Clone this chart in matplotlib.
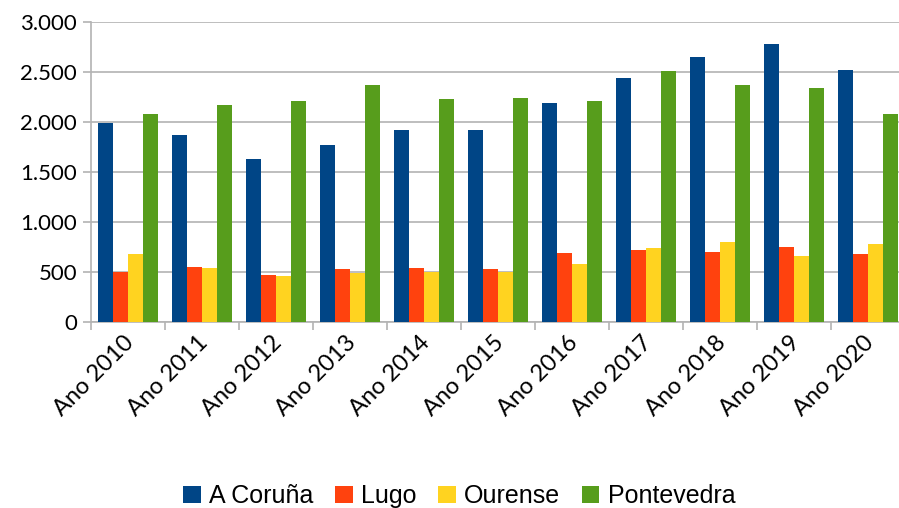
import matplotlib
matplotlib.use("Agg")
import matplotlib.pyplot as plt
from matplotlib.ticker import FuncFormatter
from matplotlib.transforms import ScaledTranslation
import numpy as np

years = ['Ano 2010', 'Ano 2011', 'Ano 2012', 'Ano 2013', 'Ano 2014', 'Ano 2015',
         'Ano 2016', 'Ano 2017', 'Ano 2018', 'Ano 2019', 'Ano 2020']
coruna = [1990, 1870, 1630, 1770, 1920, 1920, 2190, 2440, 2650, 2780, 2520]
lugo = [500, 550, 470, 530, 540, 530, 690, 720, 700, 750, 680]
ourense = [680, 540, 460, 495, 500, 500, 580, 740, 800, 660, 780]
pontevedra = [2080, 2170, 2210, 2370, 2230, 2240, 2210, 2510, 2370, 2340, 2080]

series = [('A Coruña', coruna, '#004586'),
          ('Lugo', lugo, '#ff420e'),
          ('Ourense', ourense, '#ffd320'),
          ('Pontevedra', pontevedra, '#579d1c')]

fig = plt.figure(figsize=(8.99, 5.08), dpi=100)
ax = fig.add_axes([91 / 899, 1 - 322 / 508, 814 / 899, 300 / 508])

x = np.arange(len(years))
w = 0.2
for i, (name, vals, col) in enumerate(series):
    ax.bar(x + (i - 1.5) * w, vals, w, color=col, label=name, zorder=3)

ax.set_xlim(-0.5, len(years) - 0.5)
ax.set_ylim(0, 3000)
ax.set_yticks(np.arange(0, 3001, 500))
ax.yaxis.set_major_formatter(FuncFormatter(lambda v, p: f'{int(v):,}'.replace(',', '.')))
ax.grid(axis='y', color='#b3b3b3', linewidth=1.2, zorder=0)

ax.set_xticks(x)
ax.set_xticklabels(years, rotation=45, ha='right', rotation_mode='anchor', family='Lato', fontsize=17)
ax.set_xticks(np.arange(-0.5, len(years), 1), minor=True)
ax.tick_params(axis='x', which='major', length=0, pad=7)
ax.tick_params(axis='x', which='minor', length=6, color='#b3b3b3', width=1.2)
ax.tick_params(axis='y', length=6, color='#b3b3b3', width=1.2, labelsize=16, pad=4)
for lab in ax.get_yticklabels():
    lab.set_family('Lato')
# shift labels a little left so they end near the category centre
for lab in ax.get_xticklabels():
    lab.set_transform(lab.get_transform() + ScaledTranslation(-5 / 100, 0, fig.dpi_scale_trans))

for s in ['top', 'right']:
    ax.spines[s].set_visible(False)
for s in ['left', 'bottom']:
    ax.spines[s].set_color('#b3b3b3')
    ax.spines[s].set_linewidth(1.2)

fig.legend(loc='center', bbox_to_anchor=(0.511, 1 - 496 / 508), ncol=4, frameon=False,
           prop={'family': 'Liberation Sans', 'size': 18}, handlelength=0.7, handleheight=0.7,
           handletextpad=0.35, columnspacing=0.85)

fig.savefig('out.png', dpi=100)
